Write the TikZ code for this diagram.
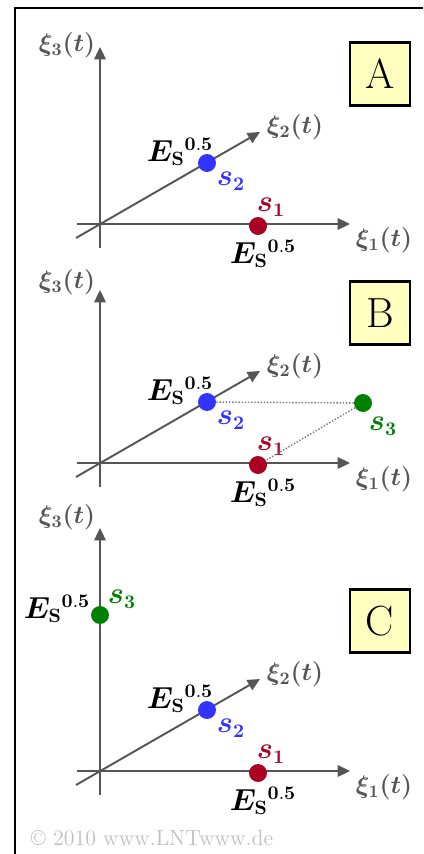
\documentclass[tikz,border=0pt]{standalone}
\usepackage{amsmath}
\usepackage{bm}
\usetikzlibrary{arrows.meta}
\definecolor{axisgray}{RGB}{85,85,85}
\definecolor{sigred}{RGB}{170,0,34}
\definecolor{sigblue}{RGB}{51,51,255}
\definecolor{siggreen}{RGB}{0,128,0}
\definecolor{boxyellow}{RGB}{255,255,192}
\newcommand{\sqrtenergy}{$\bm{E}_{\mathbf{S}}{}^{\mathbf{0.5}}$}

\begin{document}
\begin{tikzpicture}[x=0.02cm, y=-0.02cm,
	axis/.style={axisgray, line width=1.1pt, -{Triangle[length=7pt,width=6.5pt]}},
	axislabel/.style={axisgray, font=\fontsize{14}{16}\selectfont, inner sep=0pt},
	sigdot/.style={circle, inner sep=0pt, minimum size=10.2pt},
	energy/.style={font=\fontsize{16}{18}\selectfont, inner sep=0pt},
	siglabel/.style={font=\fontsize{16}{18}\selectfont, inner sep=0pt},
	casebox/.style={draw=black, line width=1.5pt, fill=boxyellow, minimum width=34pt, minimum height=35.7pt, font=\fontsize{24}{26}\selectfont, inner sep=0pt},
	distline/.style={axisgray!80, densely dotted, line width=0.8pt}]
	
	% Fixed frame of the picture
	\useasboundingbox (0,0) rectangle (423,854);
	\draw[line width=1.2pt] (423,8) -- (15,8) -- (15,854);
	
	% --- Three panels: axes, s1, s2 and the case box ---
	\foreach \p/\oy/\ty/\ly in {A/224/-177/-179, B/463/-173/-181, C/771/-243/-254} {
		\begin{scope}[shift={(100,\oy)}]
			\coordinate (o\p) at (0,0);
			\coordinate (x1s\p) at (-23,0);
			\coordinate (x1e\p) at (250,0);
			\coordinate (x2s\p) at (-24,14);
			\coordinate (x2e\p) at (160,-92);
			\coordinate (x3s\p) at (0,24);
			\coordinate (x3e\p) at (0,\ty);
			\draw[axis] (x1s\p) -- (x1e\p);
			\draw[axis] (x2s\p) -- (x2e\p);
			\draw[axis] (x3s\p) -- (x3e\p);
			
			\node[axislabel] (lx1\p) at (284,16) {$\bm{\xi_1(t)}$};
			\node[axislabel] (lx2\p) at (195,-97) {$\bm{\xi_2(t)}$};
			\node[axislabel] (lx3\p) at (-33,\ly) {$\bm{\xi_3(t)}$};
			
			% signal points
			\node[sigdot, fill=sigblue] (s2\p) at (107,-61) {};
			\node[siglabel, text=sigblue] (ls2\p) at (131,-43) {$\bm{s}_{\mathbf{2}}$};
			\node[energy] (e2\p) at (80,-72) {\sqrtenergy};
			
			\node[sigdot, fill=sigred] (s1\p) at (158,2) {};
			\node[siglabel, text=sigred] (ls1\p) at (171,-17) {$\bm{s}_{\mathbf{1}}$};
			\node[energy] (e1\p) at (163,30) {\sqrtenergy};
			
			\node[casebox] (case\p) at (280,-150) {\p};
		\end{scope}
	}
	
	% --- Panel B: s3 off the axes ---
	\begin{scope}[shift={(100,463)}]
		\node[sigdot, fill=siggreen] (s3B) at (263,-60) {};
		\node[siglabel, text=siggreen] (ls3B) at (283,-37) {$\bm{s}_{\mathbf{3}}$};
	\end{scope}
	\draw[distline] (s2B) -- (s3B);
	\draw[distline] (s3B) -- (s1B);
	
	% --- Panel C: s3 on the third axis ---
	\begin{scope}[shift={(100,771)}]
		\node[sigdot, fill=siggreen] (s3C) at (0,-156) {};
		\node[siglabel, text=siggreen] (ls3C) at (22,-172) {$\bm{s}_{\mathbf{3}}$};
		\node[energy] (e3C) at (-43,-162) {\sqrtenergy};
	\end{scope}
	
	\node[font=\fontsize{12.5}{14}\selectfont, text=gray!50, inner sep=0pt] (copy) at (152,838) {\textcopyright{} 2010 www.LNTwww.de};
\end{tikzpicture}
\end{document}
